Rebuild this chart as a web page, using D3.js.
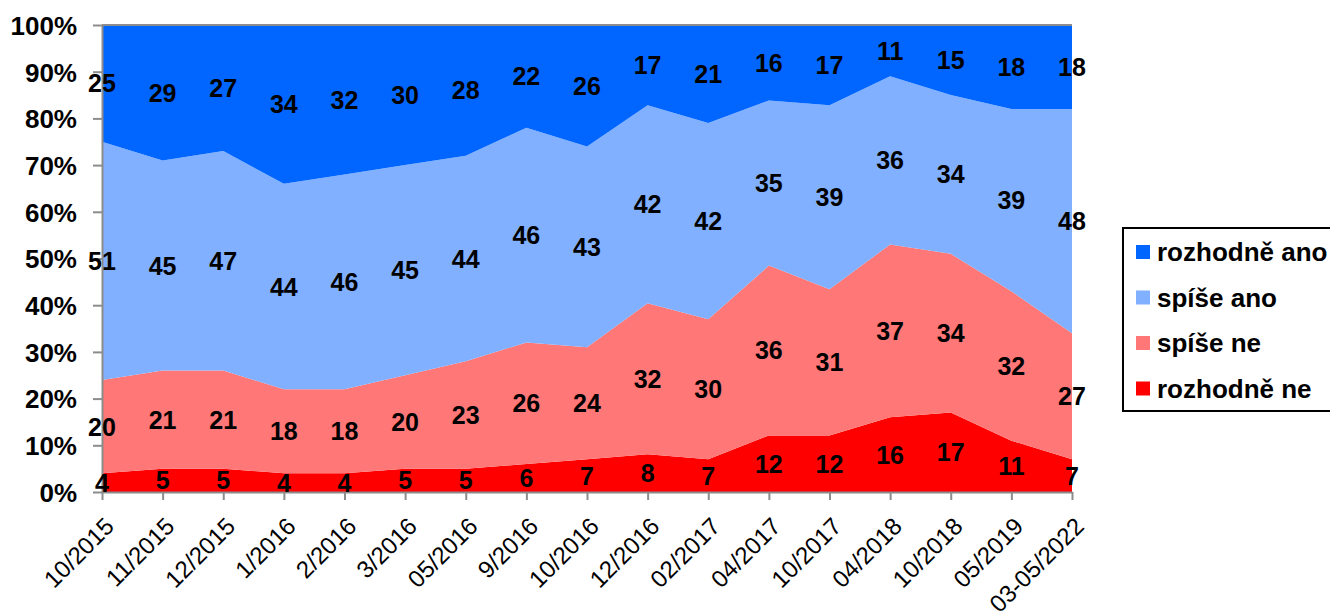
<!DOCTYPE html>
<html><head><meta charset="utf-8">
<script src="https://cdn.jsdelivr.net/npm/d3@7"></script>
<style>body{margin:0;background:#fff;}svg{display:block;font-family:"Liberation Sans",Arial,sans-serif;}</style>
</head><body><svg id="c" width="1330" height="616"></svg>
<script>
const categories = ["10/2015","11/2015","12/2015","1/2016","2/2016","3/2016","05/2016","9/2016","10/2016","12/2016","02/2017","04/2017","10/2017","04/2018","10/2018","05/2019","03-05/2022"];
const rozhodneNe  = [4,5,5,4,4,5,5,6,7,8,7,12,12,16,17,11,7];
const spiseNe     = [20,21,21,18,18,20,23,26,24,32,30,36,31,37,34,32,27];
const spiseAno    = [51,45,47,44,46,45,44,46,43,42,42,35,39,36,34,39,48];
const rozhodneAno = [25,29,27,34,32,30,28,22,26,17,21,16,17,11,15,18,18];
const yTicks = [0,0.1,0.2,0.3,0.4,0.5,0.6,0.7,0.8,0.9,1];

const series = [
  {key:"rn", name:"rozhodně ne", values:rozhodneNe, color:"#FF0000"},
  {key:"sn", name:"spíše ne", values:spiseNe, color:"#FF7777"},
  {key:"sa", name:"spíše ano", values:spiseAno, color:"#80B0FF"},
  {key:"ra", name:"rozhodně ano", values:rozhodneAno, color:"#0066FF"}
];
const table = categories.map((c,i)=>{const o={cat:c}; series.forEach(s=>o[s.key]=s.values[i]); return o;});
const stack = d3.stack().keys(series.map(s=>s.key)).offset(d3.stackOffsetExpand);
const layers = stack(table);

const L=102, R=1072, T=25, B=492;
const svg = d3.select("#c");
const x = d3.scalePoint().domain(categories).range([L,R]);
const y = d3.scaleLinear().domain([0,1]).range([B,T]);

const area = d3.area().x(d=>x(d.data.cat)).y0(d=>y(d[0])).y1(d=>y(d[1]));
svg.append("g").selectAll("path").data(layers).join("path")
  .attr("d",area).attr("fill",(d,i)=>series[i].color);

// top border
svg.append("line").attr("x1",L).attr("x2",R).attr("y1",T).attr("y2",T).attr("stroke","#8c8c8c").attr("stroke-width",2);

// y axis
const ya = svg.append("g").attr("transform",`translate(${L},0)`)
  .call(d3.axisLeft(y).tickValues(yTicks).tickFormat(d3.format(".0%")).tickSize(9).tickSizeOuter(0));
ya.select(".domain").attr("stroke","#8c8c8c").attr("stroke-width",2);
ya.selectAll(".tick line").attr("stroke","#8c8c8c").attr("stroke-width",2);
ya.selectAll("text").attr("font-size",26).attr("font-weight","bold").attr("fill","#000")
  .attr("x",-25).attr("dy","0.36em");

// x axis
const xa = svg.append("g").attr("transform",`translate(0,${B})`)
  .call(d3.axisBottom(x).tickSize(8).tickSizeOuter(0));
xa.select(".domain").attr("stroke","#8c8c8c").attr("stroke-width",2);
xa.selectAll(".tick line").attr("stroke","#8c8c8c").attr("stroke-width",2);
xa.selectAll("text").attr("font-size",24).attr("fill","#000")
  .attr("text-anchor","end").attr("transform","translate(1,24) rotate(-45)").attr("x",0).attr("y",0).attr("dy","0.7em");

// data labels
layers.forEach((layer,li)=>{
  svg.append("g").selectAll("text").data(layer).join("text")
    .attr("x",d=>x(d.data.cat)).attr("y",d=>y((d[0]+d[1])/2))
    .attr("dy","0.36em").attr("text-anchor","middle")
    .attr("font-size",25).attr("font-weight","bold").attr("fill","#000")
    .text((d,i)=>series[li].values[i]);
});

// legend
const lg = svg.append("g");
lg.append("rect").attr("x",1123).attr("y",228).attr("width",220).attr("height",183)
  .attr("fill","#fff").attr("stroke","#000").attr("stroke-width",2);
const legOrder = series.slice().reverse();
legOrder.forEach((s,i)=>{
  const cy = 252 + i*45.5;
  lg.append("rect").attr("x",1136).attr("y",cy-7).attr("width",14).attr("height",14).attr("fill",s.color);
  lg.append("text").attr("x",1157).attr("y",cy).attr("dy","0.36em").attr("font-size",26).attr("font-weight","bold").text(s.name);
});
</script></body></html>
